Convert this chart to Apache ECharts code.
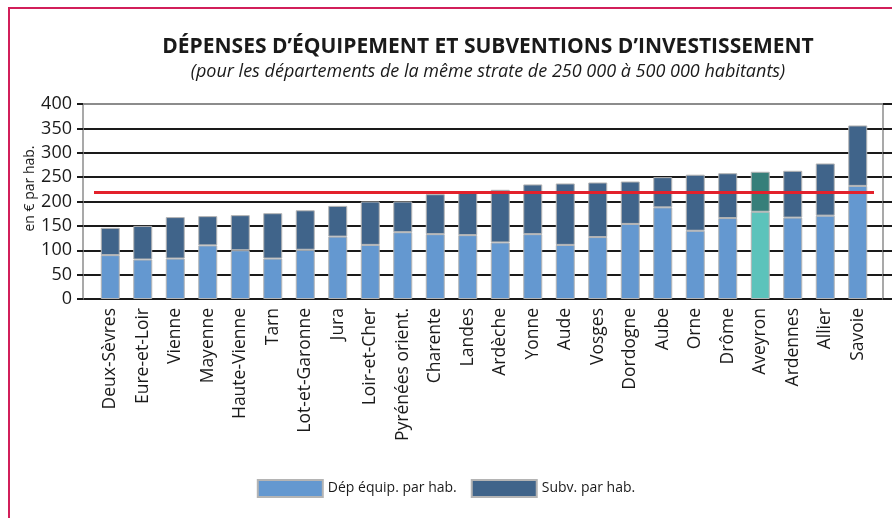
<!DOCTYPE html>
<html>
<head>
<meta charset="utf-8">
<script src="https://cdn.jsdelivr.net/npm/echarts@6/dist/echarts.min.js"></script>
<style>
  html, body { margin: 0; padding: 0; background: #fff; }
  #chart { width: 892px; height: 518px; }
</style>
</head>
<body>
<div id="chart"></div>
<script>
// départements (ordre du graphique)
var departements = ['Deux-Sèvres', 'Eure-et-Loir', 'Vienne', 'Mayenne', 'Haute-Vienne', 'Tarn',
  'Lot-et-Garonne', 'Jura', 'Loir-et-Cher', 'Pyrénées orient.', 'Charente', 'Landes',
  'Ardèche', 'Yonne', 'Aude', 'Vosges', 'Dordogne', 'Aube', 'Orne', 'Drôme',
  'Aveyron', 'Ardennes', 'Allier', 'Savoie'];

// dépenses d'équipement par hab. (€)
var depEquip = [90, 81, 83, 110, 100, 83, 101, 128, 111, 137, 133, 131,
  116, 133, 111, 127, 154, 188, 140, 166, 179, 167, 171, 232];

// subventions par hab. (€)
var subvInv = [56, 69, 85, 60, 72, 93, 81, 63, 89, 63, 82, 88,
  108, 102, 126, 112, 87, 62, 115, 92, 82, 96, 107, 124];

// moyenne de la strate
var moyenne = 219;

var yTicks = [0, 50, 100, 150, 200, 250, 300, 350, 400];

var highlight = 'Aveyron';

var font = '"Open Sans", "Noto Sans", sans-serif';

var myChart = echarts.init(document.getElementById('chart'));

function withHighlight(values, color) {
  return values.map(function (v, i) {
    if (departements[i] === highlight) {
      return { value: v, itemStyle: { color: color } };
    }
    return v;
  });
}

var gridColors = yTicks.map(function (t, i) {
  return i === yTicks.length - 1 ? '#8c8c8c' : '#1a1a1a';
});

myChart.setOption({
  backgroundColor: '#fff',
  animation: false,
  textStyle: { fontFamily: font },
  title: {
    text: 'DÉPENSES D’ÉQUIPEMENT ET SUBVENTIONS D’INVESTISSEMENT',
    subtext: '(pour les départements de la même strate de 250 000 à 500 000 habitants)',
    left: 483,
    textAlign: 'center',
    top: 32,
    itemGap: 5,
    textStyle: { fontFamily: font, fontSize: 21, fontWeight: 'bold', color: '#1a1a1a' },
    subtextStyle: { fontFamily: font, fontSize: 18, fontStyle: 'italic', color: '#1a1a1a' }
  },
  graphic: [{
    type: 'rect',
    shape: { x: 9, y: 8, width: 900, height: 530 },
    style: { fill: 'none', stroke: '#d21f5a', lineWidth: 2 },
    silent: true
  }],
  legend: {
    left: 'center',
    top: 474,
    itemWidth: 65,
    itemHeight: 17,
    itemGap: 14,
    icon: 'rect',
    textStyle: { fontFamily: font, fontSize: 14, color: '#1a1a1a' },
    data: ['Dép équip. par hab.', 'Subv. par hab.']
  },
  grid: [
    { left: 83, right: 9, top: 104, bottom: 219 },
    { left: 94, right: 18, top: 104, bottom: 219 }
  ],
  xAxis: [
    { gridIndex: 0, type: 'value', min: 0, max: 1, show: false },
    {
      gridIndex: 1,
      type: 'category',
      data: departements,
      axisLine: { show: false },
      axisTick: { show: false },
      axisLabel: {
        rotate: 90,
        interval: 0,
        margin: 9,
        fontSize: 17.5,
        color: '#1a1a1a',
        fontFamily: font
      }
    }
  ],
  yAxis: [
    {
      gridIndex: 0,
      type: 'value',
      min: 0,
      max: 400,
      interval: 50,
      name: 'en € par hab.',
      nameLocation: 'middle',
      nameGap: 46,
      nameMoveOverlap: false,
      nameTextStyle: { fontSize: 14, color: '#1a1a1a', padding: [0, 0, 0, 26] },
      axisLine: { show: true, lineStyle: { color: '#8c8c8c', width: 1.5 } },
      axisTick: { show: true, length: 6, lineStyle: { color: '#1a1a1a', width: 2 } },
      axisLabel: { fontSize: 18, color: '#1a1a1a', margin: 11 },
      splitLine: { show: true, lineStyle: { color: gridColors, width: 2 } }
    },
    {
      gridIndex: 0,
      type: 'value',
      position: 'right',
      min: 0,
      max: 400,
      interval: 50,
      axisLine: { show: true, lineStyle: { color: '#8c8c8c', width: 1.5 } },
      axisTick: { show: true, length: 9, lineStyle: { color: '#1a1a1a', width: 2 } },
      axisLabel: { show: false },
      splitLine: { show: false }
    },
    { gridIndex: 1, type: 'value', min: 0, max: 400, show: false }
  ],
  series: [
    {
      name: 'Dép équip. par hab.',
      type: 'bar',
      stack: 'total',
      xAxisIndex: 1,
      yAxisIndex: 2,
      barWidth: 19,
      itemStyle: { color: '#6498d0', borderColor: '#b4b4b4', borderWidth: 1 },
      data: withHighlight(depEquip, '#5cc3bb'),
      markLine: {
        silent: true,
        symbol: 'none',
        label: { show: false },
        lineStyle: { color: '#e3212b', width: 3, type: 'solid' },
        data: [{ yAxis: moyenne }]
      }
    },
    {
      name: 'Subv. par hab.',
      type: 'bar',
      stack: 'total',
      xAxisIndex: 1,
      yAxisIndex: 2,
      barWidth: 19,
      itemStyle: { color: '#40648a', borderColor: '#b4b4b4', borderWidth: 1 },
      data: withHighlight(subvInv, '#367f7a')
    }
  ]
});
</script>
</body>
</html>
